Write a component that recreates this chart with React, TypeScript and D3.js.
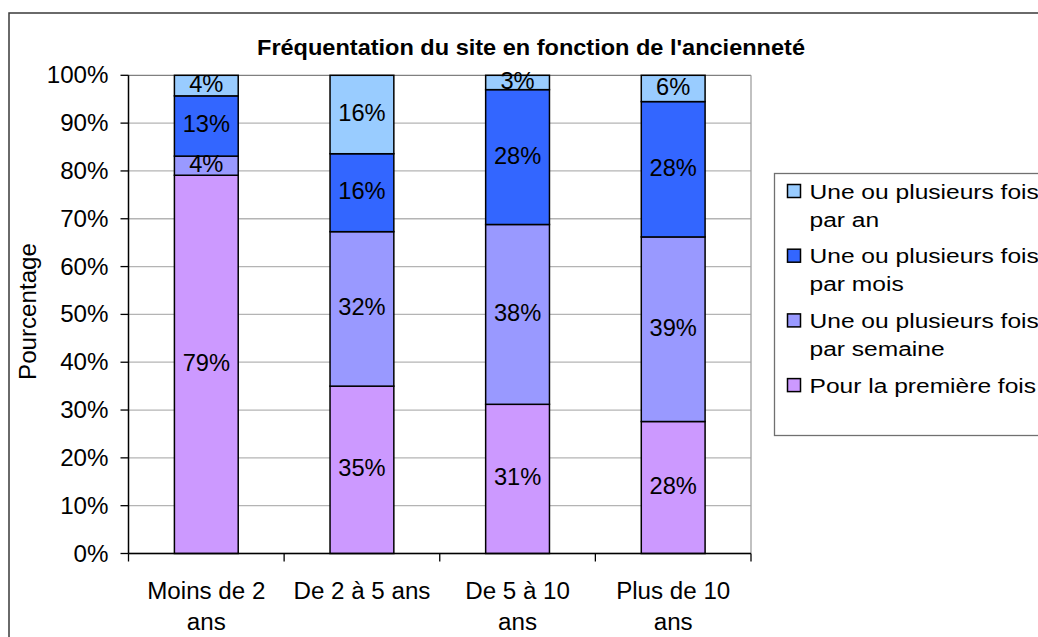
import React from "react";
import * as d3 from "d3";

const categories = ["Moins de 2 ans", "De 2 à 5 ans", "De 5 à 10 ans", "Plus de 10 ans"];
const categoryLines = [["Moins de 2", "ans"], ["De 2 à 5 ans"], ["De 5 à 10", "ans"], ["Plus de 10", "ans"]];
const seriesNames = ["Pour la première fois", "Une ou plusieurs fois par semaine", "Une ou plusieurs fois par mois", "Une ou plusieurs fois par an"];
const legendLines = [["Pour la première fois"], ["Une ou plusieurs fois", "par semaine"], ["Une ou plusieurs fois", "par mois"], ["Une ou plusieurs fois", "par an"]];
const seriesColors = ["#CC99FF", "#9999FF", "#3366FF", "#99CCFF"];
const premiere = [79.1, 35.0, 31.2, 27.6];
const semaine = [4.0, 32.3, 37.6, 38.6];
const mois = [12.6, 16.3, 28.2, 28.3];
const an = [4.3, 16.4, 3.0, 5.5];
const yTicks = [0, 10, 20, 30, 40, 50, 60, 70, 80, 90, 100];
const title = "Fréquentation du site en fonction de l'ancienneté";
const yTitle = "Pourcentage";

const FONT = "'Liberation Sans', Arial, sans-serif";

function T({ x, y, sx = 1.05, size = 23, anchor = "middle", weight = "normal", rotate = 0, children }: any) {
  return (
    <text
      transform={`translate(${x},${y}) rotate(${rotate}) scale(${sx},1)`}
      textAnchor={anchor}
      fontFamily={FONT}
      fontSize={size}
      fontWeight={weight}
      fill="#000"
    >
      {children}
    </text>
  );
}

export default function App() {
  const W = 1038, H = 637;
  const left = 128.5, right = 751, top = 75.3, bottom = 553.5;
  const x = d3.scaleBand<string>().domain(categories).range([left, right]).paddingInner(0.59).paddingOuter(0.295);
  const y = d3.scaleLinear().domain([0, 100]).range([bottom, top]);
  const rows = categories.map((c, i) => ({ cat: c, s0: premiere[i], s1: semaine[i], s2: mois[i], s3: an[i] }));
  const stack = d3.stack<any>().keys(["s0", "s1", "s2", "s3"]);
  const stacked = stack(rows);
  const step = (right - left) / categories.length;

  return (
    <svg width={W} height={H} style={{ position: "absolute", left: 0, top: 0, background: "#fff" }}>
      <rect x={0} y={0} width={W} height={H} fill="#fff" />
      {/* outer border */}
      <rect x={9} y={13} width={W + 20} height={H + 20} fill="none" stroke="#3a3a3a" strokeWidth={1.5} />
      {/* title */}
      <T x={531} y={55} size={22} sx={1.07} weight="bold">{title}</T>
      {/* gridlines */}
      {yTicks.map((t) => (
        <line key={"g" + t} x1={left} x2={right} y1={y(t)} y2={y(t)} stroke={t === 100 ? "#808080" : "#b4b4b4"} strokeWidth={1.3} />
      ))}
      <line x1={right} x2={right} y1={top} y2={bottom} stroke="#a0a0a0" strokeWidth={1.3} />
      {/* bars */}
      {stacked.map((layer, si) => (
        <g key={"s" + si}>
          {layer.map((d: any, i: number) => {
            const bx = x(categories[i])!;
            const y0 = y(d[0]), y1 = y(d[1]);
            return (
              <rect key={i} x={bx} y={y1} width={x.bandwidth()} height={y0 - y1} fill={seriesColors[si]} stroke="#000" strokeWidth={1.5} />
            );
          })}
        </g>
      ))}
      {/* data labels */}
      {stacked.map((layer, si) => (
        <g key={"l" + si}>
          {layer.map((d: any, i: number) => {
            const cx = x(categories[i])! + x.bandwidth() / 2;
            const mid = (y(d[0]) + y(d[1])) / 2;
            return (
              <T key={i} x={cx} y={mid + 6.5} sx={1.03}>{Math.round(d[1] - d[0]) + "%"}</T>
            );
          })}
        </g>
      ))}
      {/* axes */}
      <line x1={left} x2={left} y1={top} y2={bottom} stroke="#000" strokeWidth={1.5} />
      <line x1={left} x2={right} y1={bottom} y2={bottom} stroke="#000" strokeWidth={1.5} />
      {yTicks.map((t) => (
        <g key={"yt" + t}>
          <line x1={left - 8} x2={left} y1={y(t)} y2={y(t)} stroke="#000" strokeWidth={1.3} />
          <T x={108.5} y={y(t) + 8} anchor="end">{t + "%"}</T>
        </g>
      ))}
      {d3.range(categories.length + 1).map((k) => (
        <line key={"xt" + k} x1={left + k * step} x2={left + k * step} y1={bottom} y2={bottom + 8} stroke="#000" strokeWidth={1.3} />
      ))}
      {categoryLines.map((lines, i) => (
        <g key={"xl" + i}>
          {lines.map((ln, j) => (
            <T key={j} x={x(categories[i])! + x.bandwidth() / 2} y={598.5 + j * 31.5}>{ln}</T>
          ))}
        </g>
      ))}
      {/* y title */}
      <T x={36} y={311.5} rotate={-90}>{yTitle}</T>
      {/* legend */}
      <rect x={774.5} y={173.5} width={300} height={262} fill="#fff" stroke="#707070" strokeWidth={1.3} />
      {[3, 2, 1, 0].map((si, k) => {
        const base = 198.5 + k * 64.7;
        return (
          <g key={"lg" + si}>
            <rect x={787.5} y={base - 14} width={13} height={13} fill={seriesColors[si]} stroke="#000" strokeWidth={1.5} />
            {legendLines[si].map((ln, j) => (
              <T key={j} x={809.5} y={base + j * 28} anchor="start" size={21} sx={1.17}>{ln}</T>
            ))}
          </g>
        );
      })}
      <desc>{seriesNames.join(", ")}</desc>
    </svg>
  );
}
